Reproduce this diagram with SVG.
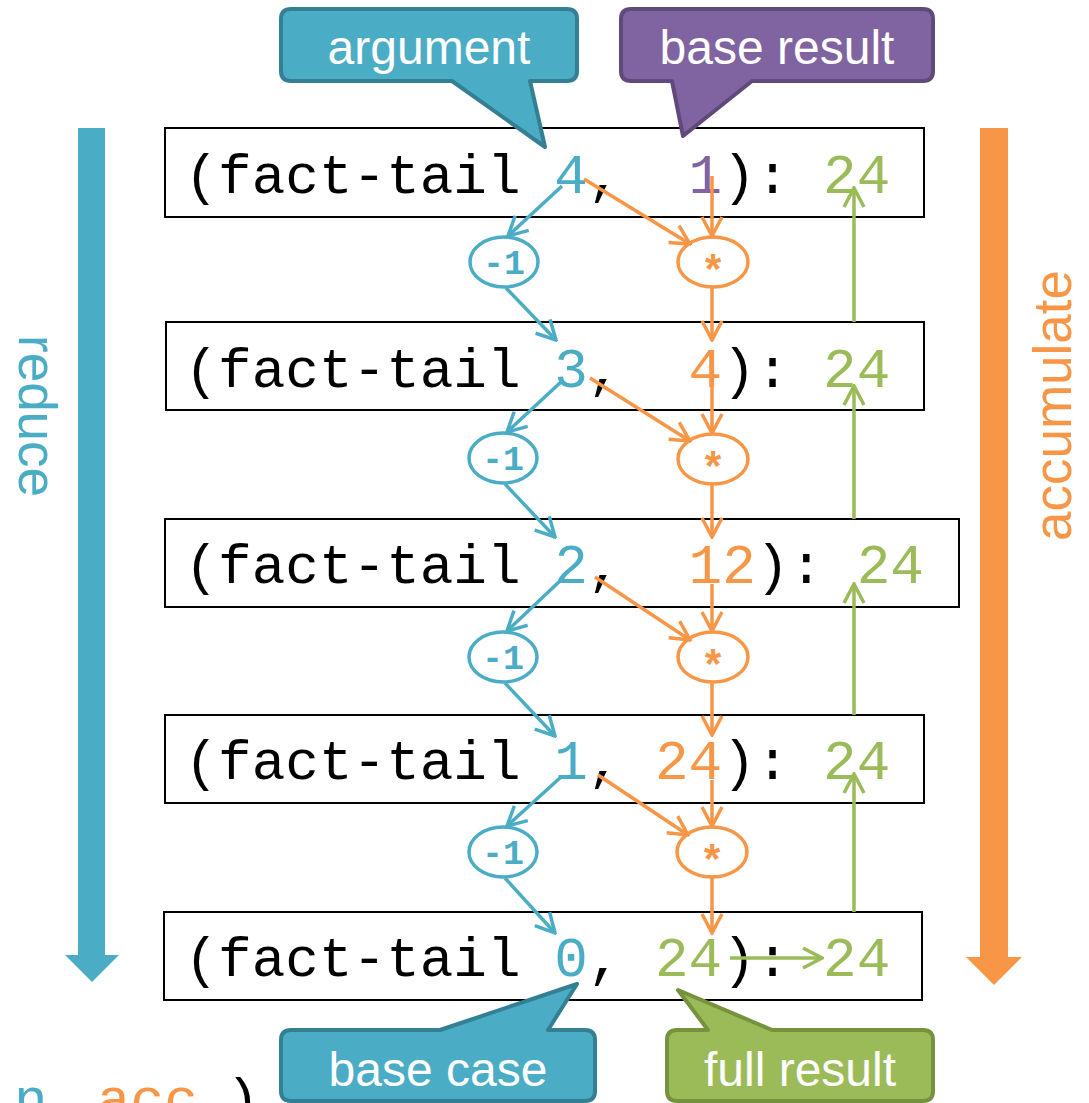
<svg xmlns="http://www.w3.org/2000/svg" width="1089" height="1103" viewBox="0 0 1089 1103">
  <style>
    .box { fill: #ffffff; stroke: #000000; stroke-width: 2; }
    .code { font-family: "Liberation Mono", "DejaVu Sans Mono", monospace; font-size: 56px; fill: #000000; }
    .blue { fill: #4BACC6; }
    .orange { fill: #F79646; }
    .purple { fill: #8064A2; }
    .green { fill: #9BBB59; }
    .op { fill: #ffffff; stroke-width: 3.5; }
    .op-blue { stroke: #4BACC6; }
    .op-orange { stroke: #F79646; }
    .optext { font-family: "Liberation Mono", "DejaVu Sans Mono", monospace; font-weight: bold; text-anchor: middle; }
    .ln-blue { stroke: #4BACC6; stroke-width: 3.5; fill: none; marker-end: url(#head-blue); }
    .ln-orange { stroke: #F79646; stroke-width: 3.5; fill: none; marker-end: url(#head-orange); }
    .ln-green { stroke: #9BBB59; stroke-width: 3.5; fill: none; marker-end: url(#head-green); }
    .callout-text { font-family: "Liberation Sans", Arial, sans-serif; font-size: 48px; fill: #ffffff; text-anchor: middle; }
    .side { font-family: "Liberation Sans", Arial, sans-serif; font-size: 53px; }
  </style>
  <defs>
    <marker id="head-blue" viewBox="0 0 24 24" refX="22" refY="12" markerWidth="24" markerHeight="24" markerUnits="userSpaceOnUse" orient="auto">
      <path d="M3,2 L22,12 L3,22" fill="none" stroke="#4BACC6" stroke-width="3.5"/>
    </marker>
    <marker id="head-orange" viewBox="0 0 24 24" refX="22" refY="12" markerWidth="24" markerHeight="24" markerUnits="userSpaceOnUse" orient="auto">
      <path d="M3,2 L22,12 L3,22" fill="none" stroke="#F79646" stroke-width="3.5"/>
    </marker>
    <marker id="head-green" viewBox="0 0 24 24" refX="22" refY="12" markerWidth="24" markerHeight="24" markerUnits="userSpaceOnUse" orient="auto">
      <path d="M3,2 L22,12 L3,22" fill="none" stroke="#9BBB59" stroke-width="3.5"/>
    </marker>
  </defs>

  <!-- side arrows -->
  <g id="reduce-arrow">
    <rect x="78" y="128" width="27" height="828" class="blue"/>
    <polygon points="65,955 119,955 92,982" class="blue"/>
    <text class="side blue" transform="translate(19,335) rotate(90)">reduce</text>
  </g>
  <g id="accumulate-arrow">
    <rect x="980" y="128" width="28" height="830" class="orange"/>
    <polygon points="966,957 1022,957 994,985" class="orange"/>
    <text class="side orange" transform="translate(1071,541) rotate(-90)" font-size="54">accumulate</text>
  </g>

  <!-- call frames -->
  <g id="call-4">
    <rect x="165" y="128" width="759" height="89" class="box"/>
    <text class="code" x="184.5" y="193" xml:space="preserve">(fact-tail <tspan class="blue">4</tspan>,  <tspan class="purple">1</tspan>): <tspan class="green">24</tspan></text>
  </g>
  <g id="call-3">
    <rect x="166" y="322" width="758" height="88" class="box"/>
    <text class="code" x="184.5" y="387" xml:space="preserve">(fact-tail <tspan class="blue">3</tspan>,  <tspan class="orange">4</tspan>): <tspan class="green">24</tspan></text>
  </g>
  <g id="call-2">
    <rect x="165" y="519" width="794" height="88" class="box"/>
    <text class="code" x="184.5" y="583" xml:space="preserve">(fact-tail <tspan class="blue">2</tspan>,  <tspan class="orange">12</tspan>): <tspan class="green">24</tspan></text>
  </g>
  <g id="call-1">
    <rect x="165" y="715" width="759" height="88" class="box"/>
    <text class="code" x="184.5" y="779" xml:space="preserve">(fact-tail <tspan class="blue">1</tspan>, <tspan class="orange">24</tspan>): <tspan class="green">24</tspan></text>
  </g>
  <g id="call-0">
    <rect x="164" y="912" width="758" height="88" class="box"/>
    <text class="code" x="184.5" y="976" xml:space="preserve">(fact-tail <tspan class="blue">0</tspan>, <tspan class="green">24</tspan>): <tspan class="green">24</tspan></text>
  </g>

  <!-- operation nodes -->
  <g id="dec-1">
    <ellipse cx="504" cy="262" rx="34" ry="25" class="op op-blue"/>
    <text x="504" y="274" class="optext blue" font-size="35">-1</text>
  </g>
  <g id="mul-1">
    <ellipse cx="713" cy="262" rx="35" ry="25" class="op op-orange"/>
    <text x="713" y="285" class="optext orange" font-size="42">*</text>
  </g>
  <g id="dec-2">
    <ellipse cx="503" cy="458" rx="34" ry="25" class="op op-blue"/>
    <text x="503" y="470" class="optext blue" font-size="35">-1</text>
  </g>
  <g id="mul-2">
    <ellipse cx="713" cy="459" rx="35" ry="25" class="op op-orange"/>
    <text x="713" y="482" class="optext orange" font-size="42">*</text>
  </g>
  <g id="dec-3">
    <ellipse cx="503" cy="657" rx="34" ry="25" class="op op-blue"/>
    <text x="503" y="669" class="optext blue" font-size="35">-1</text>
  </g>
  <g id="mul-3">
    <ellipse cx="713" cy="657" rx="35" ry="25" class="op op-orange"/>
    <text x="713" y="680" class="optext orange" font-size="42">*</text>
  </g>
  <g id="dec-4">
    <ellipse cx="503" cy="852" rx="34" ry="25" class="op op-blue"/>
    <text x="503" y="864" class="optext blue" font-size="35">-1</text>
  </g>
  <g id="mul-4">
    <ellipse cx="712" cy="852" rx="35" ry="25" class="op op-orange"/>
    <text x="712" y="875" class="optext orange" font-size="42">*</text>
  </g>

  <!-- connectors -->
  <g id="connectors">
    <!-- argument reduction -->
    <line x1="562" y1="186" x2="508" y2="236" class="ln-blue"/>
    <line x1="506" y1="288" x2="556" y2="340" class="ln-blue"/>
    <line x1="561" y1="382" x2="507" y2="432" class="ln-blue"/>
    <line x1="505" y1="484" x2="555" y2="537" class="ln-blue"/>
    <line x1="561" y1="580" x2="507" y2="631" class="ln-blue"/>
    <line x1="505" y1="683" x2="555" y2="736" class="ln-blue"/>
    <line x1="561" y1="777" x2="507" y2="826" class="ln-blue"/>
    <line x1="505" y1="878" x2="555" y2="933" class="ln-blue"/>
    <!-- accumulator products -->
    <line x1="584" y1="179" x2="690" y2="244" class="ln-orange"/>
    <line x1="712" y1="176" x2="712" y2="236" class="ln-orange"/>
    <line x1="712" y1="288" x2="712" y2="340" class="ln-orange"/>
    <line x1="590" y1="378" x2="690" y2="441" class="ln-orange"/>
    <line x1="712" y1="384" x2="712" y2="433" class="ln-orange"/>
    <line x1="712" y1="485" x2="712" y2="537" class="ln-orange"/>
    <line x1="595" y1="577" x2="690" y2="640" class="ln-orange"/>
    <line x1="712" y1="584" x2="712" y2="631" class="ln-orange"/>
    <line x1="712" y1="683" x2="712" y2="735" class="ln-orange"/>
    <line x1="598" y1="775" x2="688" y2="835" class="ln-orange"/>
    <line x1="712" y1="780" x2="712" y2="826" class="ln-orange"/>
    <line x1="712" y1="878" x2="712" y2="933" class="ln-orange"/>
    <!-- result propagation -->
    <line x1="730" y1="958" x2="822" y2="958" class="ln-green"/>
    <line x1="854" y1="912" x2="854" y2="774" class="ln-green"/>
    <line x1="854" y1="715" x2="854" y2="584" class="ln-green"/>
    <line x1="854" y1="519" x2="854" y2="386" class="ln-green"/>
    <line x1="854" y1="322" x2="854" y2="188" class="ln-green"/>
  </g>

  <!-- callouts -->
  <g id="callout-argument">
    <path d="M291,9 H567 Q577,9 577,19 V71 Q577,81 567,81 H530 L545,147 L452,81 H291 Q281,81 281,71 V19 Q281,9 291,9 Z" fill="#4BACC6" stroke="#357F93" stroke-width="4" stroke-linejoin="round"/>
    <text x="429" y="64" class="callout-text">argument</text>
  </g>
  <g id="callout-base-result">
    <path d="M631,9 H923 Q933,9 933,19 V71 Q933,81 923,81 H752 L683,136 L672,81 H631 Q621,81 621,71 V19 Q621,9 631,9 Z" fill="#8064A2" stroke="#5F4A7A" stroke-width="4" stroke-linejoin="round"/>
    <text x="777" y="64" class="callout-text">base result</text>
  </g>
  <g id="callout-base-case">
    <path d="M291,1030 H440 L577,984 L548,1030 H585 Q595,1030 595,1040 V1091 Q595,1101 585,1101 H291 Q281,1101 281,1091 V1040 Q281,1030 291,1030 Z" fill="#4BACC6" stroke="#357F93" stroke-width="4" stroke-linejoin="round"/>
    <text x="438" y="1086" class="callout-text">base case</text>
  </g>
  <g id="callout-full-result">
    <path d="M677,1030 H708 L678,990 L772,1030 H923 Q933,1030 933,1040 V1091 Q933,1101 923,1101 H677 Q667,1101 667,1091 V1040 Q667,1030 677,1030 Z" fill="#9BBB59" stroke="#76923C" stroke-width="4" stroke-linejoin="round"/>
    <text x="800" y="1086" class="callout-text">full result</text>
  </g>

  <!-- signature fragment at the lower edge -->
  <g id="signature">
    <text class="code" y="1117" font-size="63"><tspan x="14" class="blue">n</tspan><tspan x="97" class="orange">acc</tspan><tspan x="226">)</tspan></text>
  </g>
</svg>
